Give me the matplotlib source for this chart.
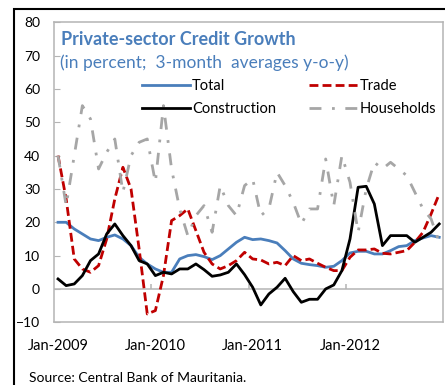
import numpy as np
import matplotlib
matplotlib.use("Agg")
import matplotlib.pyplot as plt
from matplotlib.patches import Rectangle

plt.rcParams['font.family'] = ['Lato', 'DejaVu Sans']

# monthly, Jan-2009 .. Dec-2012 (3-month averages, y-o-y, percent)
tick_labels = ["Jan-2009", "Jan-2010", "Jan-2011", "Jan-2012"]
tick_pos = [0, 12, 24, 36]

total = [20, 20, 18, 16.5, 15, 14.5, 15.5, 16.2, 15, 13, 9.5, 7.5,
         6, 5, 5, 9, 10, 10.3, 9.7, 8.8, 10, 12, 14, 15.5,
         14.8, 15, 14.5, 13.8, 11.5, 9, 7.7, 7.3, 7, 6.5, 6.8, 8.5,
         10.8, 11.3, 11.3, 10.5, 10.5, 11.5, 12.7, 13, 14.5, 15.3, 16, 15.5]
trade = [40, 27, 9, 6, 5, 7, 15, 27, 36.5, 30, 12, -7.5,
         -6.5, 4, 20.5, 22, 24, 17.5, 11, 7.5, 6, 7, 8.5, 11,
         9, 8.7, 7.5, 8, 7, 10, 8.5, 9, 7.7, 6.5, 5.5, 5.5,
         9.5, 11.7, 11.7, 12, 10.7, 10.5, 11, 11.5, 14, 17, 22.5, 28.5]
construction = [3, 1, 1.5, 4, 8.5, 10.5, 16.5, 19.5, 16, 13, 8.5, 7.5,
                4, 5, 4.5, 6, 6, 7.5, 5.8, 3.8, 4.2, 5, 7.5, 4.3,
                0.5, -4.8, -1.5, 0.5, 3.2, -0.8, -4, -3.1, -3.1, 0, 1.2, 5.5,
                15, 30.5, 30.8, 25.5, 13, 16, 16, 16, 14, 15.5, 17, 19.5]
households = [40, 25, 40, 55, 51, 36, 41, 45, 29, 40, 44, 45,
              32, 55, 36, 24, 16, 22, 25, 17, 31, 25, 22, 31,
              33, 22, 24, 35, 31, 26, 19.5, 24, 24, 39, 25, 40,
              32, 17, 30, 38, 36, 38, 36, 34, 29, 24, 21, 14]

blue = "#4A7EBB"
red = "#C00000"
grey = "#A6A6A6"
frame = "#B4B4B4"

x = np.arange(len(total))

fig = plt.figure(figsize=(4.45, 3.85), dpi=100)
ax = fig.add_axes([0.1213, 0.1629, 0.8748, 0.7792])

ax.plot(x, total, color=blue, lw=2, label="Total")
l_trade, = ax.plot(x, trade, color=red, lw=2, label="Trade")
l_trade.set_dashes([3.2, 1.5])
ax.plot(x, construction, color="black", lw=2, label="Construction")
l_hh, = ax.plot(x, households, color=grey, lw=2, label="Households")
l_hh.set_dashes([4.3, 3.8, 1, 3.8])

ax.set_xlim(-0.5, 47.5)
ax.set_ylim(-10, 80)
ax.set_yticks(range(-10, 81, 10))
ax.tick_params(axis='y', direction='in', length=4, color=frame, pad=10,
               labelsize=10)
ax.set_xticks(tick_pos)
ax.set_xticklabels(tick_labels)
ax.tick_params(axis='x', length=0, pad=12, labelsize=10.5)
for s in ax.spines.values():
    s.set_color(frame)
    s.set_linewidth(1.1)

# category axis sits on the zero line, ticks between years
ax.axhline(0, color=frame, lw=1.1, zorder=1)
ax.vlines([11.5, 23.5, 35.5], 0, 1.6, color=frame, lw=1.1, zorder=1)

ax.text(0.017, 0.944, "Private-sector Credit Growth", transform=ax.transAxes,
        color=blue, fontsize=13, fontweight='bold', va='center')
ax.text(0.015, 0.864, "(in percent;  3-month  averages y-o-y)",
        transform=ax.transAxes, color=blue, fontsize=12.5, va='center')

h, l = ax.get_legend_handles_labels()
order = [0, 2, 1, 3]
ax.legend([h[i] for i in order], [l[i] for i in order], ncol=2,
          frameon=False, loc='upper left', bbox_to_anchor=(0.225, 0.81),
          borderpad=0, borderaxespad=0, handlelength=3.3,
          handletextpad=0.15, columnspacing=2.3, labelspacing=0.62,
          fontsize=10.5)

fig.text(29 / 445, 1 - 378 / 385, "Source: Central Bank of Mauritania.",
         fontsize=10, va='center')

fig.patches.append(Rectangle((14 / 445, -0.1), 1.2, 1 - 8.5 / 385 + 0.1,
                             transform=fig.transFigure, fill=False,
                             edgecolor='black', lw=1.5))

fig.savefig("out.png", dpi=100)
